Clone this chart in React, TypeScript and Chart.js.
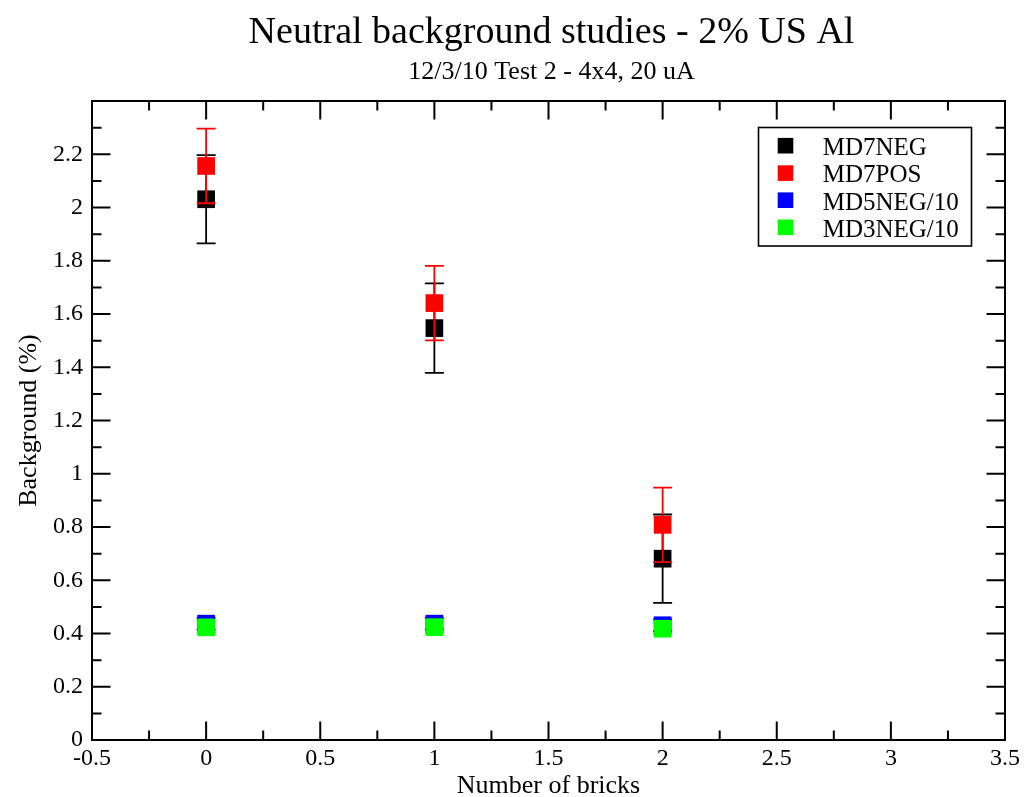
import React, { useEffect, useRef } from 'react';
import { Chart, registerables } from 'chart.js';

Chart.register(...registerables);

// ---- data ----
const bricks = [0, 1, 2];
const md7neg = [2.031, 1.547, 0.681];
const md7negErr = [0.166, 0.168, 0.166];
const md7pos = [2.156, 1.641, 0.808];
const md7posErr = [0.14, 0.14, 0.14];
const md5neg = [0.437, 0.437, 0.431];
const md5negErr = [0.022, 0.022, 0.022];
const md3neg = [0.423, 0.424, 0.418];
const md3negErr = [0.02, 0.02, 0.02];

const seriesLabels = ['MD7NEG', 'MD7POS', 'MD5NEG/10', 'MD3NEG/10'];
const seriesColors = ['#000000', '#ff0000', '#0000ff', '#00ff00'];

const xTickLabels = ['-0.5', '0', '0.5', '1', '1.5', '2', '2.5', '3', '3.5'];
const yTickLabels = ['0', '0.2', '0.4', '0.6', '0.8', '1', '1.2', '1.4', '1.6', '1.8', '2', '2.2', ''];

const titleText = 'Neutral background studies - 2% US Al';
const subtitleText = '12/3/10 Test 2 - 4x4, 20 uA';
const xTitle = 'Number of bricks';
const yTitle = 'Background (%)';

const FONT = '"Liberation Serif", "Times New Roman", serif';

const errorBarPlugin = {
  id: 'errorBars',
  afterDatasetDraw(chart: any, args: any) {
    const ds = chart.data.datasets[args.index];
    if (!ds.errors) return;
    const { ctx, scales } = chart;
    const xs = scales.x;
    const ys = scales.y;
    ctx.save();
    ctx.strokeStyle = ds.backgroundColor;
    ctx.lineWidth = 1.8;
    ds.data.forEach((p: any, i: number) => {
      const e = ds.errors[i];
      const px = xs.getPixelForValue(p.x);
      const top = ys.getPixelForValue(p.y + e);
      const bot = ys.getPixelForValue(p.y - e);
      const cap = 9.5;
      ctx.beginPath();
      ctx.moveTo(px, top);
      ctx.lineTo(px, bot);
      ctx.moveTo(px - cap, top);
      ctx.lineTo(px + cap, top);
      ctx.moveTo(px - cap, bot);
      ctx.lineTo(px + cap, bot);
      ctx.stroke();
    });
    ctx.restore();
  },
};

const framePlugin = {
  id: 'frameTicks',
  beforeDatasetsDraw(chart: any) {
    const { ctx, chartArea: a, scales } = chart;
    const xs = scales.x;
    const ys = scales.y;
    ctx.save();
    ctx.strokeStyle = '#000';
    ctx.lineWidth = 2;
    ctx.beginPath();
    ctx.rect(a.left, a.top, a.right - a.left, a.bottom - a.top);
    ctx.stroke();
    const major = 18.5;
    const minor = 9.5;
    ctx.beginPath();
    const xt = xs.ticks.map((t: any) => t.value);
    xt.forEach((v: number, i: number) => {
      const px = xs.getPixelForValue(v);
      ctx.moveTo(px, a.bottom);
      ctx.lineTo(px, a.bottom - major);
      ctx.moveTo(px, a.top);
      ctx.lineTo(px, a.top + major);
      if (i < xt.length - 1) {
        const mx = xs.getPixelForValue((v + xt[i + 1]) / 2);
        ctx.moveTo(mx, a.bottom);
        ctx.lineTo(mx, a.bottom - minor);
        ctx.moveTo(mx, a.top);
        ctx.lineTo(mx, a.top + minor);
      }
    });
    const yt = ys.ticks.map((t: any) => t.value);
    yt.forEach((v: number, i: number) => {
      const py = ys.getPixelForValue(v);
      ctx.moveTo(a.left, py);
      ctx.lineTo(a.left + major, py);
      ctx.moveTo(a.right, py);
      ctx.lineTo(a.right - major, py);
      if (i < yt.length - 1) {
        const my = ys.getPixelForValue((v + yt[i + 1]) / 2);
        ctx.moveTo(a.left, my);
        ctx.lineTo(a.left + minor, my);
        ctx.moveTo(a.right, my);
        ctx.lineTo(a.right - minor, my);
      }
    });
    ctx.stroke();
    ctx.restore();
  },
};

const textPlugin = {
  id: 'titlesLegend',
  afterDraw(chart: any) {
    const { ctx, chartArea: a } = chart;
    ctx.save();
    ctx.fillStyle = '#000';
    ctx.textAlign = 'center';
    ctx.textBaseline = 'alphabetic';
    const cx = (a.left + a.right) / 2 + 3;
    ctx.font = `38px ${FONT}`;
    ctx.fillText(titleText, cx, 43);
    ctx.font = `26px ${FONT}`;
    ctx.fillText(subtitleText, cx, 79);

    // legend box
    const bx = 758.5;
    const by = 127.5;
    const bw = 213;
    const bh = 118.5;
    ctx.fillStyle = '#fff';
    ctx.fillRect(bx, by, bw, bh);
    ctx.strokeStyle = '#000';
    ctx.lineWidth = 1.6;
    ctx.strokeRect(bx, by, bw, bh);
    ctx.font = `25px ${FONT}`;
    ctx.textAlign = 'left';
    const rows = [145.7, 173.1, 200.2, 227.3];
    seriesLabels.forEach((lab, i) => {
      const y = rows[i];
      ctx.fillStyle = seriesColors[i];
      ctx.fillRect(777.7, y - 7.8, 15.6, 15.6);
      ctx.fillStyle = '#000';
      ctx.fillText(lab, 822.7, y + 9.3);
    });
    ctx.restore();
  },
};

export default function App() {
  const ref = useRef<HTMLCanvasElement | null>(null);
  useEffect(() => {
    document.body.style.margin = '0';
    document.body.style.overflow = 'hidden';
    const canvas = ref.current;
    if (!canvas) return;
    const mk = (vals: number[]) => bricks.map((x, i) => ({ x, y: vals[i] }));
    const values = [md7neg, md7pos, md5neg, md3neg];
    const errs = [md7negErr, md7posErr, md5negErr, md3negErr];
    const orders = [4, 3, 2, 1];
    const datasets: any[] = seriesLabels.map((label, i) => ({
      label,
      data: mk(values[i]),
      errors: errs[i],
      backgroundColor: seriesColors[i],
      borderColor: seriesColors[i],
      borderWidth: 0,
      pointStyle: 'rect',
      pointRadius: 12.5,
      pointHoverRadius: 12.5,
      showLine: false,
      order: orders[i],
    }));
    const chart = new Chart(canvas, {
      type: 'scatter',
      data: { datasets },
      plugins: [framePlugin, errorBarPlugin, textPlugin],
      options: {
        animation: false,
        responsive: false,
        devicePixelRatio: 1,
        layout: { padding: { top: 101, right: 31, left: 0, bottom: 0 } },
        plugins: {
          legend: { display: false },
          tooltip: { enabled: false },
          title: { display: false },
        },
        scales: {
          x: {
            type: 'linear',
            min: -0.5,
            max: 3.5,
            grid: { display: false, drawTicks: false },
            border: { display: false },
            ticks: {
              stepSize: 0.5,
              autoSkip: false,
              maxRotation: 0,
              padding: 4,
              color: '#000',
              font: { family: FONT, size: 24 },
              callback: (_v: any, i: number) => xTickLabels[i] ?? '',
            },
            title: {
              display: true,
              text: xTitle,
              color: '#000',
              font: { family: FONT, size: 26 },
              padding: { top: 0, bottom: -5 },
            },
            afterFit: (s: any) => {
              s.height = 57;
            },
          },
          y: {
            type: 'linear',
            min: 0,
            max: 2.4,
            grid: { display: false, drawTicks: false },
            border: { display: false },
            ticks: {
              stepSize: 0.2,
              autoSkip: false,
              padding: 9,
              color: '#000',
              font: { family: FONT, size: 24 },
              callback: (_v: any, i: number) => yTickLabels[i] ?? '',
            },
            title: {
              display: true,
              text: yTitle,
              color: '#000',
              font: { family: FONT, size: 26 },
              padding: { top: 14, bottom: 0 },
            },
            afterFit: (s: any) => {
              s.width = 92;
            },
          },
        },
      } as any,
    });
    return () => chart.destroy();
  }, []);
  return <canvas ref={ref} width={1036} height={797} style={{ display: 'block', width: 1036, height: 797 }} />;
}
